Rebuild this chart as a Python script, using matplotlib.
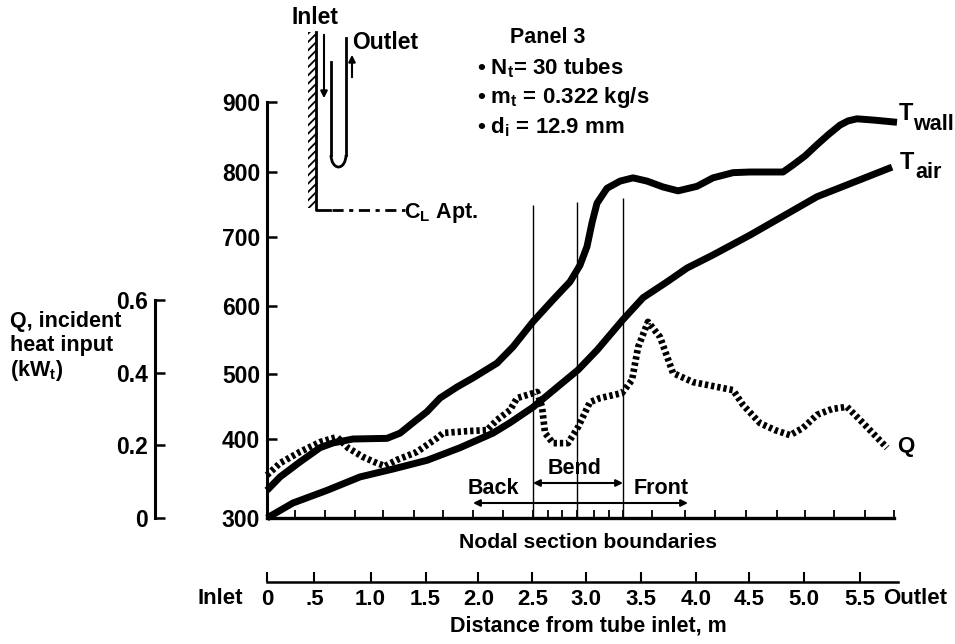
import numpy as np
import matplotlib
matplotlib.use('Agg')
import matplotlib.pyplot as plt
from matplotlib.patches import Arc, Rectangle

plt.rcParams['font.family'] = ['Liberation Sans', 'DejaVu Sans']
plt.rcParams['font.weight'] = 'bold'
plt.rcParams['mathtext.fontset'] = 'custom'
plt.rcParams['mathtext.rm'] = 'Liberation Sans:bold'
plt.rcParams['mathtext.bf'] = 'Liberation Sans:bold'
plt.rcParams['mathtext.it'] = 'Liberation Sans:bold'
plt.rcParams['hatch.linewidth'] = 1.3

# values
x_wall = [0, .121, .306, .492, .612, .798, 1.113, 1.234, 1.354, 1.484, 1.605, 1.763, 1.911, 2.134, 2.282,
          2.468, 2.653, 2.81, 2.903, 2.968, 3.015, 3.061, 3.154, 3.275, 3.395, 3.525, 3.673, 3.813, 3.989,
          4.137, 4.323, 4.481, 4.787, 4.879, 4.991, 5.102, 5.204, 5.315, 5.39, 5.473, 5.64, 5.844]
t_wall = [335, 352, 371, 389, 395, 400, 401, 409, 425, 442, 463, 480, 494, 516, 540,
          577, 609, 635, 659, 686, 722, 752, 775, 786, 791, 786, 777, 771, 778,
          791, 799, 800, 800, 810, 823, 839, 853, 867, 873, 876, 874, 871]
x_air = [0, .241, .557, .863, 1.169, 1.484, 1.791, 2.096, 2.254, 2.468, 2.885, 3.061, 3.302, 3.488,
         3.711, 3.896, 4.137, 4.481, 5.102, 5.798]
t_air = [300, 319, 335, 352, 362, 373, 389, 409, 425, 449, 506, 535, 580, 612,
         635, 655, 674, 703, 762, 807]
x_q = [0, .121, .306, .492, .649, .751, .891, 1.02, 1.095, 1.206, 1.391, 1.577, 1.633, 1.855, 2.041,
       2.134, 2.254, 2.319, 2.505, 2.551, 2.579, 2.653, 2.792, 2.885, 2.996, 3.089, 3.293, 3.386, 3.442,
       3.534, 3.646, 3.766, 3.952, 4.323, 4.416, 4.573, 4.712, 4.852, 4.972, 5.102, 5.241, 5.38, 5.547, 5.751]
q = [.118, .151, .182, .209, .223, .193, .168, .151, .143, .16, .182, .22, .234, .239, .242,
     .27, .297, .33, .347, .306, .234, .206, .206, .25, .319, .33, .344, .38, .47,
     .54, .498, .399, .374, .352, .311, .261, .242, .228, .248, .284, .30, .306, .256, .193]

temp_ticks = [300, 400, 500, 600, 700, 800, 900]
temp_heights = [0, 79, 144, 212, 281, 346, 416]  # hand drawn axis, not quite even
q_ticks = [0, .2, .4, .6]
q_labels = ['0', '0.2', '0.4', '0.6']
nodal_ticks = [.26, .538, .816, 1.076, 1.364, 1.633, 1.911, 2.189, 2.468, 2.607, 2.736, 2.876, 3.033,
               3.173, 3.302, 3.571, 3.878, 4.156, 4.443, 4.731, 4.991, 5.26, 5.547, 5.816]
bounds_x = [2.468, 2.876, 3.302]
bounds_top = [749, 754, 760]
dist_ticks = [0, .44, .96, 1.47, 1.96, 2.46, 2.96, 3.47, 3.98, 4.47, 4.98, 5.5]
dist_labels = ['0', '.5', '1.0', '1.5', '2.0', '2.5', '3.0', '3.5', '4.0', '4.5', '5.0', '5.5']

W, H = 955, 644


def box(left, right, top, bottom):
    return [left / W, 1 - bottom / H, (right - left) / W, (bottom - top) / H]


fig = plt.figure(figsize=(9.55, 6.44), dpi=100)
ax = fig.add_axes(box(267, 894, 102, 518))
ax.set_yscale('function', functions=(lambda v: np.interp(v, temp_ticks, temp_heights),
                                     lambda h: np.interp(h, temp_heights, temp_ticks)))
ax.set_xlim(0, 5.816)
ax.set_ylim(300, 900)
for s in ['top', 'right']:
    ax.spines[s].set_visible(False)
ax.spines['left'].set_linewidth(2.2)
ax.spines['bottom'].set_linewidth(2.4)
ax.set_yticks(temp_ticks)
ax.set_xticks(nodal_ticks)
ax.set_xticklabels([])
ax.minorticks_off()
ax.tick_params(axis='y', direction='in', length=7.5, width=1.8, labelsize=16.5, pad=5)
ax.tick_params(axis='x', direction='in', length=5.5, width=1.3)
ax.vlines(bounds_x, 300, bounds_top, color='black', lw=1.0)
ax.plot(x_wall, t_wall, color='black', lw=5, clip_on=False, solid_joinstyle='round', solid_capstyle='butt')
ax.plot(x_air, t_air, color='black', lw=5, clip_on=False, solid_joinstyle='round', solid_capstyle='butt')

# Q uses the same distance scale, its own axis sits further out
axq = ax.twinx()
axq.set_ylim(0, 1.145)
for s in ['top', 'right', 'bottom']:
    axq.spines[s].set_visible(False)
axq.spines['left'].set_visible(True)
axq.spines['left'].set_position(('outward', 80.5))
axq.spines['left'].set_bounds(0, .6)
axq.spines['left'].set_linewidth(2.2)
axq.yaxis.set_ticks_position('left')
axq.set_yticks(q_ticks)
axq.set_yticklabels(q_labels)
axq.tick_params(axis='y', direction='in', length=7.5, width=1.8, labelsize=16.5, pad=5)
axq.plot(x_q, q, color='black', lw=4.8, ls=(0, (.5, .44)), clip_on=False)

# distance scale under the plot
axd = fig.add_axes(box(267, 898, 560, 582))
axd.patch.set_visible(False)
axd.set_xlim(0, 5.85)
axd.set_ylim(0, 1)
axd.get_yaxis().set_visible(False)
for s in ['top', 'right', 'left']:
    axd.spines[s].set_visible(False)
axd.spines['bottom'].set_linewidth(1.8)
axd.set_xticks(dist_ticks)
axd.set_xticklabels(dist_labels)
axd.tick_params(axis='x', direction='in', length=7, width=1.5, labelsize=16, pad=5)

# overlay in pixel coordinates for the notes and the tube sketch
ov = fig.add_axes([0, 0, 1, 1], zorder=5)
ov.set_xlim(0, W)
ov.set_ylim(H, 0)
ov.axis('off')


def note(x, y, s, size=15.5, ha='left'):
    ov.text(x, y, s, fontsize=size, ha=ha, va='center', fontweight='bold')


note(10, 321, 'Q, incident')
note(10, 345, 'heat input')
note(10, 370, '(kW$_{t}$)')
note(315, 17, 'Inlet', size=16.5, ha='center')
note(352, 42, 'Outlet', size=16.5)
note(548, 37, 'Panel 3', size=15.5, ha='center')
note(477, 68, '• N$_{t}$= 30 tubes', size=16)
note(477, 97, '• m$_{t}$ = 0.322 kg/s', size=16)
note(477, 127, '• d$_{i}$ = 12.9 mm', size=16)
note(404, 213, 'C$_{L}$ Apt.', size=15.5)
note(899, 113, 'T', size=17)
note(913, 124, 'wall', size=15.5)
note(900, 162, 'T', size=17)
note(915, 172, 'air', size=15.5)
note(897, 446, 'Q', size=16)
note(493, 488, 'Back', ha='center')
note(575, 468, 'Bend', ha='center')
note(661, 488, 'Front', ha='center')
note(588, 542, 'Nodal section boundaries', size=15.2, ha='center')
note(197, 598, 'Inlet', size=16)
note(883, 598, 'Outlet', size=16)
note(588, 626, 'Distance from tube inlet, m', size=15.5, ha='center')

# tube sketch
ov.add_patch(Rectangle((308, 32), 8, 176, facecolor='white', edgecolor='black', hatch='////', lw=0))
ov.plot([315.5, 315.5, 330], [32, 210, 210], color='black', lw=2)
ov.plot([332, 405], [210, 210], color='black', lw=2, ls=(0, (4, 2, 1.5, 2)))
ov.plot([331, 331], [62, 155], color='black', lw=2)
ov.plot([346, 346], [38, 155], color='black', lw=2)
ov.add_patch(Arc((338.5, 155), 15, 24, theta1=0, theta2=180, angle=0, color='black', lw=2))
ov.annotate('', xy=(324, 101), xytext=(324, 32), arrowprops=dict(arrowstyle='-|>', color='black', lw=1.5))
ov.annotate('', xy=(352, 52), xytext=(352, 80), arrowprops=dict(arrowstyle='-|>', color='black', lw=1.5))
ov.annotate('', xy=(473, 503), xytext=(688, 503), arrowprops=dict(arrowstyle='<|-|>', color='black', lw=1.5, shrinkA=0, shrinkB=0))
ov.annotate('', xy=(533, 483), xytext=(623, 483), arrowprops=dict(arrowstyle='<|-|>', color='black', lw=1.5, shrinkA=0, shrinkB=0))

fig.savefig('out.png', dpi=100)
